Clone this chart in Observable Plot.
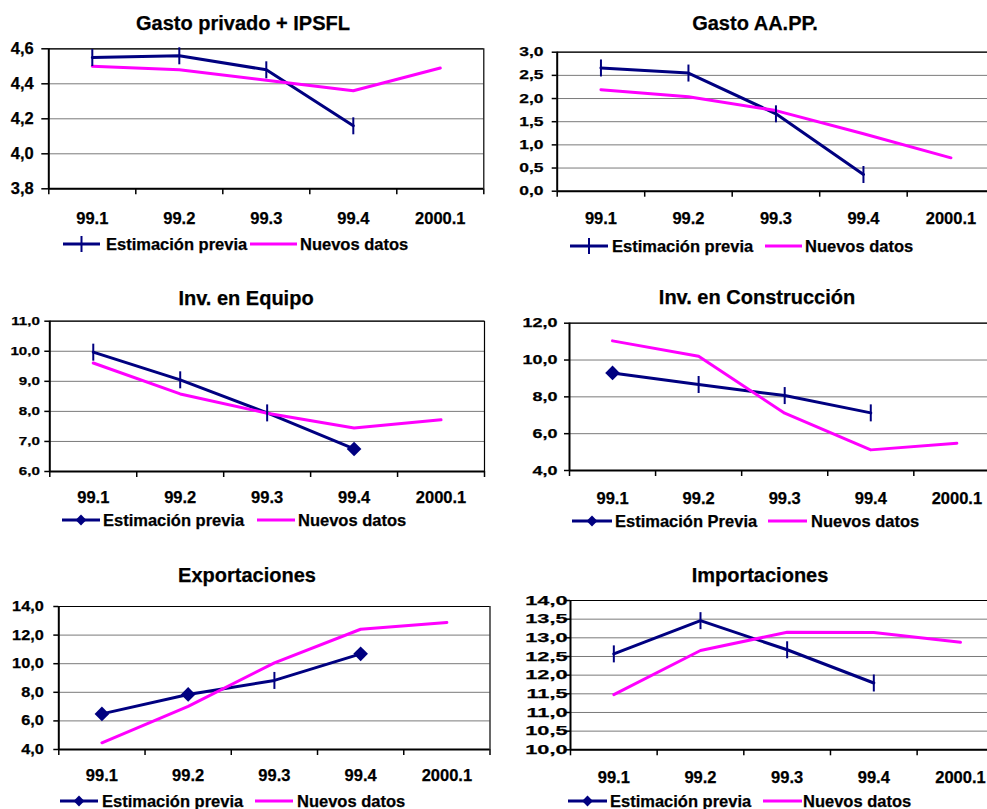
<!DOCTYPE html>
<html><head><meta charset="utf-8">
<script src="https://cdn.jsdelivr.net/npm/d3@7"></script>
<script src="https://cdn.jsdelivr.net/npm/@observablehq/plot@0.6"></script>
<style>
html,body{margin:0;padding:0;}
body{width:987px;height:809px;overflow:hidden;position:relative;background:#fff;font-family:"Liberation Sans",Arial,sans-serif;font-weight:bold;color:#000;}
.abs{position:absolute;white-space:nowrap;line-height:1;color:#000;font-weight:bold;-webkit-text-stroke:0.25px #000;}
svg.panel{position:absolute;max-width:none !important;overflow:visible;}
svg.panel text{stroke:#000;stroke-width:0.25px;}
</style></head><body>
<script>
// ---------- DATA ----------
const categories = ["99.1", "99.2", "99.3", "99.4", "2000.1"];
const legendPrevia = "Estimación previa";
const legendPreviaConstruccion = "Estimación Previa";
const legendNuevos = "Nuevos datos";

const titles = ["Gasto privado + IPSFL", "Gasto AA.PP.", "Inv. en Equipo", "Inv. en Construcción", "Exportaciones", "Importaciones"];

const gastoPrivadoPrevia = [4.55, 4.56, 4.48, 4.16];
const gastoPrivadoPreviaMarks = ["plus", "plus", "plus", "plus"];
const gastoPrivadoNuevos = [4.50, 4.48, 4.42, 4.36, 4.49];
const gastoPrivadoTicks = [3.8, 4.0, 4.2, 4.4, 4.6];

const gastoAAPPPrevia = [2.66, 2.55, 1.67, 0.36];
const gastoAAPPPreviaMarks = ["plus", "plus", "plus", "plus"];
const gastoAAPPNuevos = [2.19, 2.04, 1.74, 1.24, 0.72];
const gastoAAPPTicks = [0, 0.5, 1.0, 1.5, 2.0, 2.5, 3.0];

const equipoPrevia = [9.97, 9.05, 7.95, 6.75];
const equipoPreviaMarks = ["plus", "plus", "plus", "diamond"];
const equipoNuevos = [9.61, 8.58, 7.94, 7.45, 7.72];
const equipoTicks = [6, 7, 8, 9, 10, 11];

const construccionPrevia = [9.30, 8.67, 8.07, 7.13];
const construccionPreviaMarks = ["diamond", "plus", "plus", "plus"];
const construccionNuevos = [11.04, 10.21, 7.11, 5.12, 5.48];
const construccionTicks = [4, 6, 8, 10, 12];

const exportPrevia = [6.49, 7.85, 8.83, 10.69];
const exportPreviaMarks = ["diamond", "diamond", "plus", "diamond"];
const exportNuevos = [4.47, 7.01, 10.06, 12.41, 12.88];
const exportTicks = [4, 6, 8, 10, 12, 14];

const importPrevia = [12.57, 13.46, 12.68, 11.79];
const importPreviaMarks = ["plus", "plus", "plus", "plus"];
const importNuevos = [11.48, 12.66, 13.15, 13.14, 12.88];
const importTicks = [10, 10.5, 11, 11.5, 12, 12.5, 13, 13.5, 14];

// ---------- STYLE / LAYOUT ----------
const NAVY = "#000080", PINK = "#FF00FF", GRID = "#7a7a7a";
const FONT = '"Liberation Sans", Arial, sans-serif';

const panels = [
  {title: titles[0], previa: gastoPrivadoPrevia, marks: gastoPrivadoPreviaMarks, nuevos: gastoPrivadoNuevos, ticks: gastoPrivadoTicks,
   legendLabel: legendPrevia, legendMark: "plus",
   svg: [0, 0, 500, 260], rect: [48.3, 48.3, 483.3, 188.3],
   yfs: 16.5, ysx: 1.0, ytick: 7, ypad: 8, xpad: 23,
   titleXY: [243, 22.5], legend: {y: 244, sw1: [63, 100], t1: 106, sw2: [250, 297], t2: 300}},
  {title: titles[1], previa: gastoAAPPPrevia, marks: gastoAAPPPreviaMarks, nuevos: gastoAAPPNuevos, ticks: gastoAAPPTicks,
   legendLabel: legendPrevia, legendMark: "plus",
   svg: [490, 0, 520, 260], rect: [556.7, 51.7, 994.2, 190.7],
   yfs: 12.8, ysx: 1.36, ytick: 5, ypad: 8.7, xpad: 21,
   titleXY: [755, 22.3], legend: {y: 246, sw1: [570, 608], t1: 612, sw2: [765, 802], t2: 805}},
  {title: titles[2], previa: equipoPrevia, marks: equipoPreviaMarks, nuevos: equipoNuevos, ticks: equipoTicks,
   legendLabel: legendPrevia, legendMark: "diamond",
   svg: [0, 270, 500, 260], rect: [49.3, 320.7, 484, 471],
   yfs: 11.8, ysx: 1.28, ytick: 5, ypad: 5, xpad: 20,
   titleXY: [246, 297.3], legend: {y: 520, sw1: [62, 100], t1: 103, sw2: [257, 295], t2: 298}},
  {title: titles[3], previa: construccionPrevia, marks: construccionPreviaMarks, nuevos: construccionNuevos, ticks: construccionTicks,
   legendLabel: legendPreviaConstruccion, legendMark: "diamond",
   svg: [490, 270, 520, 260], rect: [569, 322.7, 999.4, 470],
   yfs: 12.8, ysx: 1.4, ytick: 5, ypad: 7, xpad: 22,
   titleXY: [757, 297], legend: {y: 521, sw1: [572, 612], t1: 615, sw2: [768, 807], t2: 811}},
  {title: titles[4], previa: exportPrevia, marks: exportPreviaMarks, nuevos: exportNuevos, ticks: exportTicks,
   legendLabel: legendPrevia, legendMark: "diamond",
   svg: [0, 540, 500, 269], rect: [58.3, 606, 489.5, 749],
   yfs: 13.8, ysx: 1.18, ytick: 5, ypad: 10, xpad: 20,
   titleXY: [247, 574.5], legend: {y: 801, sw1: [60, 98], t1: 102, sw2: [255, 293], t2: 297}},
  {title: titles[5], previa: importPrevia, marks: importPreviaMarks, nuevos: importNuevos, ticks: importTicks,
   legendLabel: legendPrevia, legendMark: "diamond",
   svg: [490, 540, 525, 269], rect: [570, 600, 1003.3, 749.3],
   yfs: 13.4, ysx: 1.62, ytick: 5, ypad: -2, xpad: 21,
   titleXY: [760, 574.5], legend: {y: 801, sw1: [568, 607], t1: 610, sw2: [763, 802], t2: 803}}
];

const fmtComma = d => d3.format(".1f")(d).replace(".", ",");
const vbar = {draw(ctx) { ctx.moveTo(0, -8.5); ctx.lineTo(0, 8.5); }};

function addText(txt, x, yCenter, fs, anchor) {
  const div = document.createElement("div");
  div.className = "abs";
  div.textContent = txt;
  div.style.fontSize = fs + "px";
  div.style.fontFamily = FONT;
  div.style.top = (yCenter - 0.49 * fs) + "px";
  document.body.appendChild(div);
  if (anchor === "middle") {
    div.style.left = (x - div.getBoundingClientRect().width / 2) + "px";
  } else {
    div.style.left = x + "px";
  }
}

function addSwatch(x1, x2, yc, color, mark) {
  const w = x2 - x1;
  const svg = d3.create("svg").attr("class", "panel")
    .attr("width", w).attr("height", 20)
    .style("left", x1 + "px").style("top", (yc - 10) + "px");
  svg.append("line").attr("x1", 0).attr("x2", w).attr("y1", 10).attr("y2", 10)
    .attr("stroke", color).attr("stroke-width", 3);
  if (mark === "plus") {
    svg.append("line").attr("x1", w / 2).attr("x2", w / 2).attr("y1", 2).attr("y2", 18)
      .attr("stroke", color).attr("stroke-width", 2);
  } else if (mark === "diamond") {
    const r = 5.4;
    svg.append("path").attr("d", `M${w/2},${10-r}L${w/2+r},10L${w/2},${10+r}L${w/2-r},10Z`).attr("fill", color);
  }
  document.body.appendChild(svg.node());
}

for (const p of panels) {
  const [sx, sy, W, H] = p.svg;
  const [L, T, R, B] = p.rect;
  const ymin = p.ticks[0], ymax = p.ticks[p.ticks.length - 1];
  const prev = p.previa.map((v, i) => ({i, v, m: p.marks[i]}));
  const nue = p.nuevos.map((v, i) => ({i, v}));
  const bounds = d3.range(categories.length + 1).map(k => k - 0.5);
  const centers = d3.range(categories.length);

  const chart = Plot.plot({
    width: W, height: H,
    marginLeft: L - sx, marginRight: sx + W - R, marginTop: T - sy, marginBottom: sy + H - B,
    style: {fontFamily: FONT, fontWeight: "bold", color: "#000", background: "transparent", overflow: "visible"},
    x: {type: "linear", domain: [-0.5, categories.length - 0.5]},
    y: {domain: [ymin, ymax]},
    marks: [
      Plot.gridY(p.ticks, {stroke: GRID, strokeOpacity: 1, strokeWidth: 1}),
      Plot.ruleY([ymax], {stroke: "#000", strokeWidth: 1.2}),
      Plot.ruleX([categories.length - 0.5], {stroke: "#000", strokeWidth: 1.2}),
      Plot.axisY(p.ticks, {tickFormat: fmtComma, tickSize: p.ytick, tickPadding: p.ypad, fontSize: p.yfs, label: null, stroke: "#000", strokeWidth: 1.5}),
      Plot.axisX(bounds, {tickFormat: () => "", tickSize: 6, label: null, stroke: "#000", strokeWidth: 1.5}),
      Plot.axisX(centers, {tickFormat: i => categories[i], tickSize: 0, tickPadding: p.xpad, fontSize: 16.5, label: null}),
      Plot.ruleX([-0.5], {stroke: "#000", strokeWidth: 2}),
      Plot.ruleY([ymin], {stroke: "#000", strokeWidth: 2}),
      Plot.line(prev, {x: "i", y: "v", stroke: NAVY, strokeWidth: 3}),
      Plot.line(nue, {x: "i", y: "v", stroke: PINK, strokeWidth: 3}),
      Plot.dot(prev.filter(d => d.m === "plus"), {x: "i", y: "v", symbol: vbar, r: 5, fill: "none", stroke: NAVY, strokeWidth: 2}),
      Plot.dot(prev.filter(d => d.m === "diamond"), {x: "i", y: "v", symbol: "diamond2", r: 6.6, fill: NAVY, stroke: "none"})
    ]
  });
  chart.classList.add("panel");
  chart.style.left = sx + "px";
  chart.style.top = sy + "px";
  chart.style.maxWidth = "none";
  document.body.appendChild(chart);

  // horizontal stretch of y tick labels as in the original rendering
  if (p.ysx !== 1) {
    d3.select(chart).selectAll('g[aria-label="y-axis tick label"] text').each(function () {
      const len = this.getComputedTextLength();
      this.setAttribute("textLength", len * p.ysx);
      this.setAttribute("lengthAdjust", "spacingAndGlyphs");
    });
  }

  addText(p.title, p.titleXY[0], p.titleXY[1], 20, "middle");
  const lg = p.legend;
  addSwatch(lg.sw1[0], lg.sw1[1], lg.y, NAVY, p.legendMark);
  addText(p.legendLabel, lg.t1, lg.y, 16.5, "start");
  addSwatch(lg.sw2[0], lg.sw2[1], lg.y, PINK, null);
  addText(legendNuevos, lg.t2, lg.y, 16.5, "start");
}
</script>
</body></html>
